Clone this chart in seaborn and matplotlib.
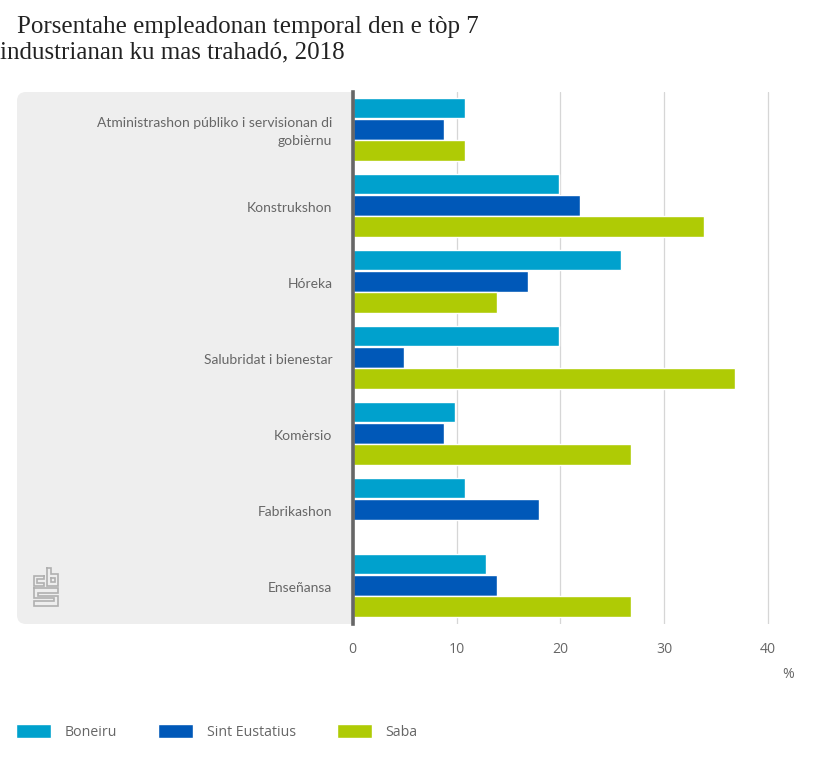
import matplotlib
matplotlib.use("Agg")
import matplotlib.pyplot as plt
from matplotlib.lines import Line2D
from matplotlib.path import Path
from matplotlib.patches import PathPatch
from matplotlib.transforms import ScaledTranslation
import pandas as pd
import seaborn as sns

categories = ["Atministrashon públiko i servisionan di\ngobièrnu", "Konstrukshon", "Hóreka",
              "Salubridat i bienestar", "Komèrsio", "Fabrikashon", "Enseñansa"]
boneiru = [10.8, 19.9, 25.8, 19.9, 9.9, 10.8, 12.8]
sint_eustatius = [8.8, 21.9, 16.9, 4.9, 8.8, 17.9, 13.9]
saba = [10.8, 33.8, 13.9, 36.8, 26.8, None, 26.8]
series_names = ["Boneiru", "Sint Eustatius", "Saba"]
colors = ["#00a1cd", "#0058b8", "#afcb05"]
x_ticks = [0, 10, 20, 30, 40]
title_lines = ["Porsentahe empleadonan temporal den e tòp 7", "industrianan ku mas trahadó, 2018"]

W, H = 830, 761
sns.set_theme(style="white")
plt.rcParams["font.family"] = ["Open Sans", "DejaVu Sans"]
TXT = "#666666"
fig = plt.figure(figsize=(W / 100, H / 100), dpi=100, facecolor="white")

def fx(p): return p / W
def fy(p): return 1 - p / H

# grey panel, rounded on the left
bg = "#eeeeee"
x0, x1, y0, y1, r = fx(17), fx(352), fy(624), fy(92), 9
rx, ry = r / W, r / H
verts = [(x1, y0), (x1, y1), (x0 + rx, y1), (x0, y1), (x0, y1 - ry), (x0, y0 + ry), (x0, y0), (x0 + rx, y0), (x1, y0)]
codes = [Path.MOVETO, Path.LINETO, Path.LINETO, Path.CURVE3, Path.CURVE3, Path.LINETO, Path.CURVE3, Path.CURVE3, Path.CLOSEPOLY]
fig.add_artist(PathPatch(Path(verts, codes), transform=fig.transFigure, fc=bg, ec="none", zorder=-2))

ax = fig.add_axes([fx(352.6), fy(624), fx(815 - 352.6), 532 / H])
ax.patch.set_alpha(0)

df = pd.DataFrame({"cat": categories, series_names[0]: boneiru, series_names[1]: sint_eustatius, series_names[2]: saba})
long = df.melt(id_vars="cat", var_name="eiland", value_name="pct")
sns.barplot(data=long, y="cat", x="pct", hue="eiland", order=categories, hue_order=series_names,
            palette=colors, saturation=1, width=0.84, gap=0.03, ax=ax, legend=True, zorder=3)

ax.set_xlim(0, (815 - 352.6) / 10.39)
ax.set_ylim(6.5 + 0.008, -0.5 + 0.008)
ax.set_xticks(x_ticks)
ax.set_xlabel("")
ax.set_ylabel("")
ax.grid(axis="x", color="#d6d6d6", lw=0.9, zorder=0)
ax.grid(axis="y", visible=False)
ax.set_axisbelow(True)
for s in ["top", "right", "bottom"]:
    ax.spines[s].set_visible(False)
ax.spines["left"].set_color("#666666")
ax.spines["left"].set_linewidth(2.6)
ax.spines["left"].set_zorder(5)
ax.tick_params(axis="y", length=0, pad=14.5, labelsize=10, labelcolor=TXT)
ax.tick_params(axis="x", length=0, pad=13, labelsize=10.1, labelcolor=TXT)
for lab in ax.get_yticklabels():
    lab.set_family(["Lato", "DejaVu Sans"])
    lab.set_linespacing(1.55)
    dy = 1.0 if "\n" in lab.get_text() else -1.3  # pixels, upward positive
    lab.set_transform(lab.get_transform() + ScaledTranslation(0, dy / 100, fig.dpi_scale_trans))

fig.text(fx(788), fy(674), "%", ha="center", va="center", fontsize=10.1, color=TXT)

# title
title_kw = dict(family=["Liberation Serif", "DejaVu Serif"], fontsize=18, color="#222222", va="center", ha="left")
fig.text(fx(17), fy(26.5), title_lines[0], **title_kw)
fig.text(fx(0), fy(52.5), title_lines[1], **title_kw)

# legend
handles, labels = ax.get_legend_handles_labels()
ax.get_legend().remove()
leg = fig.legend(handles, labels, loc="center left", bbox_to_anchor=(fx(16), fy(732)), ncol=3, frameon=False,
                 fontsize=10.15, labelcolor=TXT, handlelength=2.5, handleheight=1.2, handletextpad=0.95,
                 columnspacing=2.9, borderpad=0, borderaxespad=0)

# logo
logo = [
    [(44, 576), (34, 576), (34, 586), (44, 586), (44, 583), (37, 583), (37, 579), (44, 579), (44, 576)],
    [(47, 568), (47, 586), (58, 586), (58, 574), (51, 574), (51, 568), (47, 568)],
    [(51, 578), (51, 582), (55, 582), (55, 578), (51, 578)],
    [(34, 588), (58, 588), (58, 593), (38, 593), (38, 596), (58, 596), (58, 606), (34, 606), (34, 601),
     (54, 601), (54, 598), (34, 598), (34, 588)],
]
for seg in logo:
    fig.add_artist(Line2D([fx(p[0]) for p in seg], [fy(p[1]) for p in seg], transform=fig.transFigure,
                          color="#b0b0b0", lw=1.2, solid_joinstyle="miter", zorder=-1))

fig.savefig("out.png", dpi=100, facecolor="white")
